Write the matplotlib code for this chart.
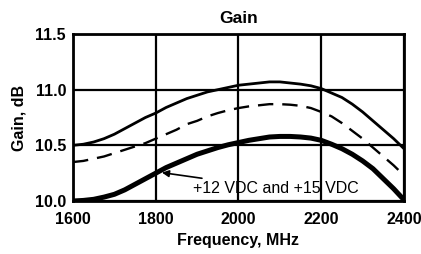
import matplotlib
matplotlib.use("Agg")
import matplotlib.pyplot as plt

plt.rcParams["font.family"] = ["Liberation Sans", "DejaVu Sans"]

freq = [1600, 1625, 1650, 1675, 1700, 1725, 1750, 1775, 1800, 1825, 1850,
        1875, 1900, 1925, 1950, 1975, 2000, 2025, 2050, 2075, 2100, 2125,
        2150, 2175, 2200, 2225, 2250, 2275, 2300, 2325, 2350, 2375, 2400]
gain_top = [10.50, 10.51, 10.53, 10.56, 10.60, 10.65, 10.70, 10.75, 10.79,
            10.84, 10.88, 10.92, 10.95, 10.98, 11.00, 11.02, 11.04, 11.05,
            11.06, 11.07, 11.07, 11.06, 11.05, 11.035, 11.01, 10.97, 10.93,
            10.87, 10.80, 10.72, 10.64, 10.56, 10.47]
gain_dash = [10.35, 10.36, 10.38, 10.40, 10.43, 10.46, 10.49, 10.52, 10.56,
             10.60, 10.64, 10.69, 10.72, 10.76, 10.79, 10.815, 10.835, 10.85,
             10.86, 10.87, 10.87, 10.865, 10.855, 10.835, 10.80, 10.76, 10.70,
             10.63, 10.56, 10.48, 10.40, 10.32, 10.23]
gain_12_15 = [10.00, 10.005, 10.015, 10.035, 10.06, 10.10, 10.15, 10.20, 10.25,
              10.30, 10.34, 10.38, 10.42, 10.45, 10.48, 10.505, 10.525, 10.545,
              10.56, 10.575, 10.58, 10.58, 10.575, 10.565, 10.545, 10.51, 10.47,
              10.42, 10.36, 10.29, 10.20, 10.11, 10.01]

xticks = [1600, 1800, 2000, 2200, 2400]
yticks = [10.0, 10.5, 11.0, 11.5]

fig = plt.figure(figsize=(4.21, 2.54), dpi=100)
ax = fig.add_axes([0.1734, 0.2087, 0.7862, 0.6573])

ax.plot(freq, gain_top, color="black", lw=2.0, solid_capstyle="butt")
ax.plot(freq, gain_dash, color="black", lw=1.7, dashes=(6.5, 3.8))
ax.plot(freq, gain_12_15, color="black", lw=3.6, solid_capstyle="butt")

ax.annotate("+12 VDC and +15 VDC", xy=(1815, 10.255), xytext=(1890, 10.11),
            fontsize=11.5, va="center", ha="left",
            arrowprops=dict(arrowstyle="-|>", color="black", lw=1.2,
                            mutation_scale=10, shrinkA=1, shrinkB=0))

ax.set_xlim(1600, 2400)
ax.set_ylim(10.0, 11.5)
ax.set_xticks(xticks)
ax.set_yticks(yticks)
ax.set_yticklabels([f"{v:.1f}" for v in yticks])
ax.grid(True, color="black", lw=1.6)
ax.tick_params(length=0, pad=5, labelsize=11.5)
ax.tick_params(axis="x", pad=8)
for lab in ax.get_xticklabels() + ax.get_yticklabels():
    lab.set_fontweight("bold")
for sp in ax.spines.values():
    sp.set_linewidth(2.0)

ax.set_title("Gain", fontsize=12.5, fontweight="bold", pad=8)
ax.set_xlabel("Frequency, MHz", fontsize=11.5, fontweight="bold", labelpad=4)
ax.set_ylabel("Gain, dB", fontsize=11.5, fontweight="bold", labelpad=6)

fig.savefig("out.png", dpi=100)
